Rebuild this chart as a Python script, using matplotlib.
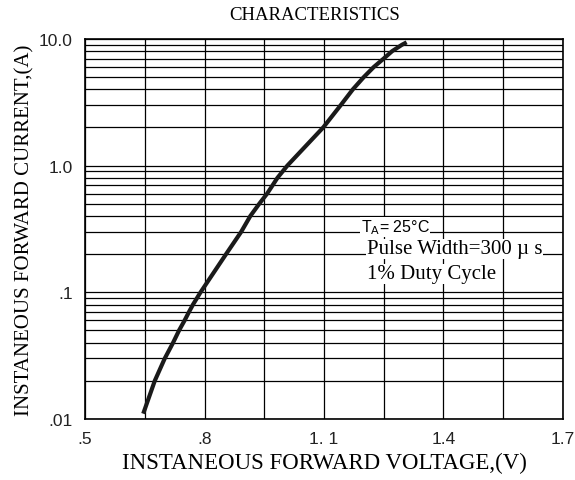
import matplotlib
matplotlib.use("Agg")
import matplotlib.pyplot as plt
from matplotlib.ticker import FixedLocator, LogLocator, NullFormatter

# Valores
tensao = [0.646, 0.675, 0.70, 0.721, 0.736, 0.75, 0.761, 0.771, 0.79, 0.854, 0.892, 0.915,
          0.9375, 0.957, 0.971, 0.983, 1.008, 1.098, 1.142, 1.1725, 1.20, 1.225, 1.25,
          1.271, 1.296, 1.3075]
corrente = [0.011, 0.02, 0.03, 0.04, 0.05, 0.06, 0.07, 0.08, 0.1, 0.2, 0.3, 0.4,
            0.5, 0.6, 0.7, 0.8, 1.0, 2.0, 3.0, 4.0, 5.0, 6.0, 7.0,
            8.0, 9.0, 9.4]

x_ticks = [0.5, 0.8, 1.1, 1.4, 1.7]
x_labels = [".5", ".8", "1. 1", "1.4", "1.7"]
y_ticks = [0.01, 0.1, 1.0, 10.0]
y_labels = [".01", ".1", "1.0", "10.0"]

serif = "Liberation Serif"
sans = "Liberation Sans"

fig = plt.figure(figsize=(5.75, 4.81), dpi=100)
ax = fig.add_axes([0.148, 0.127, 0.831, 0.790])

ax.plot(tensao, corrente, color="#1a1a1a", lw=3, solid_capstyle="butt",
        solid_joinstyle="round", zorder=5)

ax.set_yscale("log")
ax.set_xlim(0.5, 1.7)
ax.set_ylim(0.01, 10)

# Grade
ax.xaxis.set_major_locator(FixedLocator(x_ticks))
ax.xaxis.set_minor_locator(FixedLocator([0.65, 0.95, 1.25, 1.55]))
ax.yaxis.set_major_locator(FixedLocator(y_ticks))
ax.yaxis.set_minor_locator(LogLocator(base=10, subs=range(2, 10)))
ax.yaxis.set_minor_formatter(NullFormatter())
ax.set_xticklabels(x_labels, fontfamily=sans, fontsize=12.5, color="#222222")
ax.set_yticklabels(y_labels, fontfamily=sans, fontsize=12.5, color="#222222")
ax.grid(True, which="both", color="black", lw=0.9)
ax.tick_params(which="both", length=0)
ax.tick_params(axis="y", pad=9)
ax.tick_params(axis="x", pad=9)
for s in ax.spines.values():
    s.set_color("black")
    s.set_linewidth(1.2)

# Textos
fig.text(0.548, 0.968, "CHARACTERISTICS", ha="center", va="center",
         fontfamily=serif, fontsize=13.5)
ax.set_xlabel("INSTANEOUS FORWARD VOLTAGE,(V)", fontfamily=serif, fontsize=16.5, labelpad=4)
ax.set_ylabel("INSTANEOUS FORWARD CURRENT,(A)", fontfamily=serif, fontsize=15, labelpad=3)

caixa = dict(facecolor="white", edgecolor="none", pad=0.5)
ax.text(1.1925, 0.33, r"T$_{\mathsf{A}}$= 25°C", fontfamily=sans, fontsize=11.5,
        va="center", bbox=caixa, zorder=3)
ax.text(1.2075, 0.22, "Pulse Width=300 µ s", fontfamily=serif, fontsize=15,
        va="center", bbox=caixa, zorder=3)
ax.text(1.2075, 0.14, "1% Duty Cycle", fontfamily=serif, fontsize=15,
        va="center", bbox=caixa, zorder=3)

plt.savefig("out.png", dpi=100)
